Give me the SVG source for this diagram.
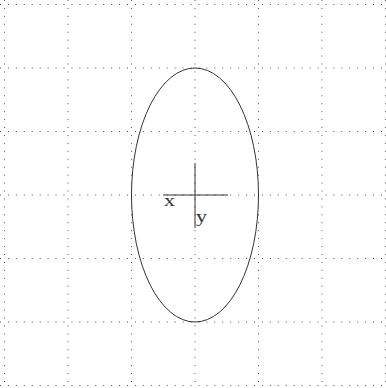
<svg xmlns="http://www.w3.org/2000/svg" width="386" height="388" viewBox="0 0 386 388">
<style>
.grid{stroke:#555;stroke-width:1;stroke-dasharray:1 6.9375;fill:none}
.shape{stroke:#333;stroke-width:1;fill:none}
.lbl{font-family:"Liberation Serif",serif;font-size:17px;fill:#333}
</style>
<rect width="386" height="388" fill="#fff"/>
<g id="grid">
<path class="grid" d="M0,4.5H386M0,68H386M0,131.5H386M0,195H386M0,258.5H386M0,322H386M0,385.5H386"/>
<path class="grid" d="M4.5,0V388M68,0V388M131.5,0V388M195,0V388M258.5,0V388M322,0V388M385.5,0V388"/>
</g>
<g id="ellipse">
<ellipse class="shape" cx="195" cy="195" rx="63.5" ry="127"/>
</g>
<g id="axes">
<path class="shape" d="M163,195H228M195,163V228"/>
<text class="lbl" x="164" y="206" textLength="11" lengthAdjust="spacingAndGlyphs">x</text>
<text class="lbl" x="196" y="222" textLength="11" lengthAdjust="spacingAndGlyphs">y</text>
</g>
</svg>
